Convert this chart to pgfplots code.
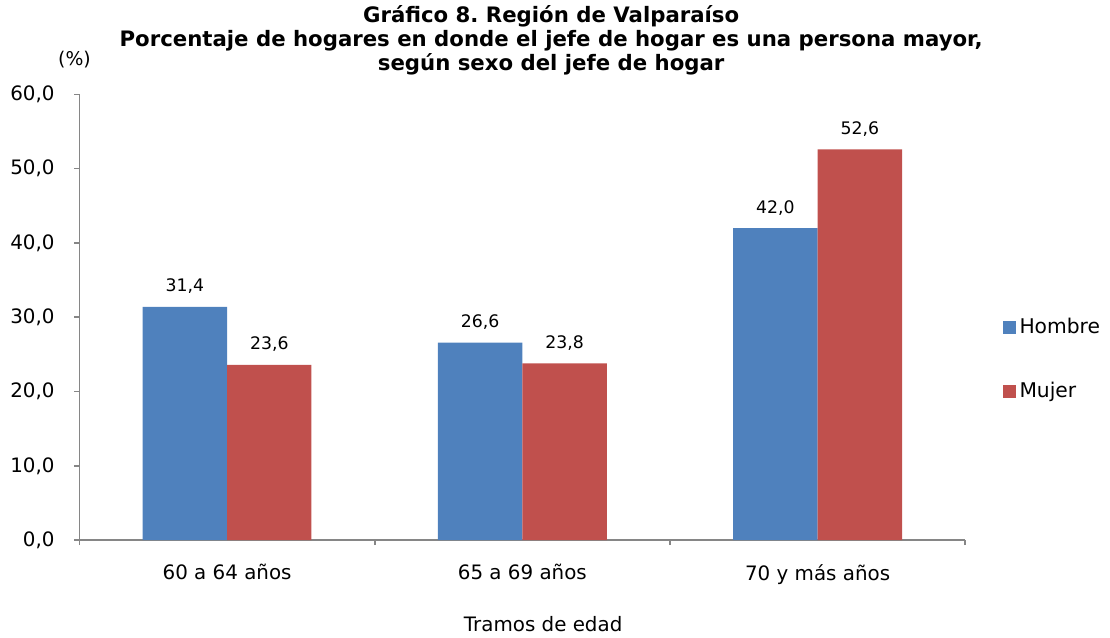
\documentclass[border=0pt]{standalone}
\usepackage{fontspec}
\setmainfont{DejaVu Sans}
\usepackage{pgfplots}
\pgfplotsset{compat=1.18}
\definecolor{hombre}{RGB}{79,129,189}
\definecolor{mujer}{RGB}{192,80,77}
\definecolor{axgray}{RGB}{134,134,134}
\frenchspacing

\begin{document}
\begin{tikzpicture}
\begin{axis}[
    name=ax,
    at={(0,0)},
    scale only axis,
    width=446pt, height=224.5pt,
    ybar=0pt,
    bar width=42.5pt,
    xmin=-0.5, xmax=2.5,
    ymin=0, ymax=60,
    ytick distance=10,
    xtick={0,1,2},
    xticklabels={60 a 64 años, 65 a 69 años, 70 y más años},
    minor xtick={-0.5,0.5,1.5,2.5},
    major x tick style={draw=none},
    minor x tick style={axgray, thick},
    minor tick length=2.5pt,
    major tick length=2.5pt,
    tick align=outside,
    ytick style={axgray, thick},
    axis x line*=bottom,
    axis y line*=left,
    axis line style={axgray, thick, -},
    tick label style={font=\fontsize{10}{12}\selectfont},
    /pgf/number format/assume math mode=true,
    yticklabel={\pgfmathprintnumber[fixed, fixed zerofill, precision=1, use comma]{\tick}},
    xticklabel style={yshift=-6pt},
    yticklabel style={xshift=-6.5pt},
    nodes near coords,
    nodes near coords style={font=\fontsize{8.7}{10}\selectfont, yshift=3pt,
        /pgf/number format/.cd, fixed, fixed zerofill, precision=1, use comma, assume math mode=true},
    legend style={at={(1.035,0.405)}, anchor=west, draw=none, fill=none,
        font=\fontsize{10.2}{12}\selectfont, row sep=19pt,
        /tikz/every even column/.append style={column sep=1pt}},
    legend cell align=left,
    legend image code/.code={\fill[#1] (0pt,-3.25pt) rectangle (6.5pt,3.25pt);},
    clip=false,
]
\addplot[fill=hombre, draw=none] coordinates {(0,31.4) (1,26.6) (2,42.0)};
\addlegendentry{Hombre}
\addplot[fill=mujer, draw=none] coordinates {(0,23.6) (1,23.8) (2,52.6)};
\addlegendentry{Mujer}

\node[anchor=south, align=center, inner sep=0pt, font=\bfseries\fontsize{10.7}{12}\selectfont]
    at (axis description cs:0.5325,1) [yshift=9.5pt]
    {Gráfico 8. Región de Valparaíso\\
     Porcentaje de hogares en donde el jefe de hogar es una persona mayor,\\
     según sexo del jefe de hogar};
\node[font=\fontsize{9.5}{11}\selectfont] at (axis description cs:0,1) [xshift=-2.5pt, yshift=17.5pt] {(\%)};
\node[font=\fontsize{10}{12}\selectfont] at (axis description cs:0.5235,0) [yshift=-42pt] {Tramos de edad};
\end{axis}
\path (-40pt,-47.5pt) rectangle (515pt,272pt);
\end{tikzpicture}
\end{document}
